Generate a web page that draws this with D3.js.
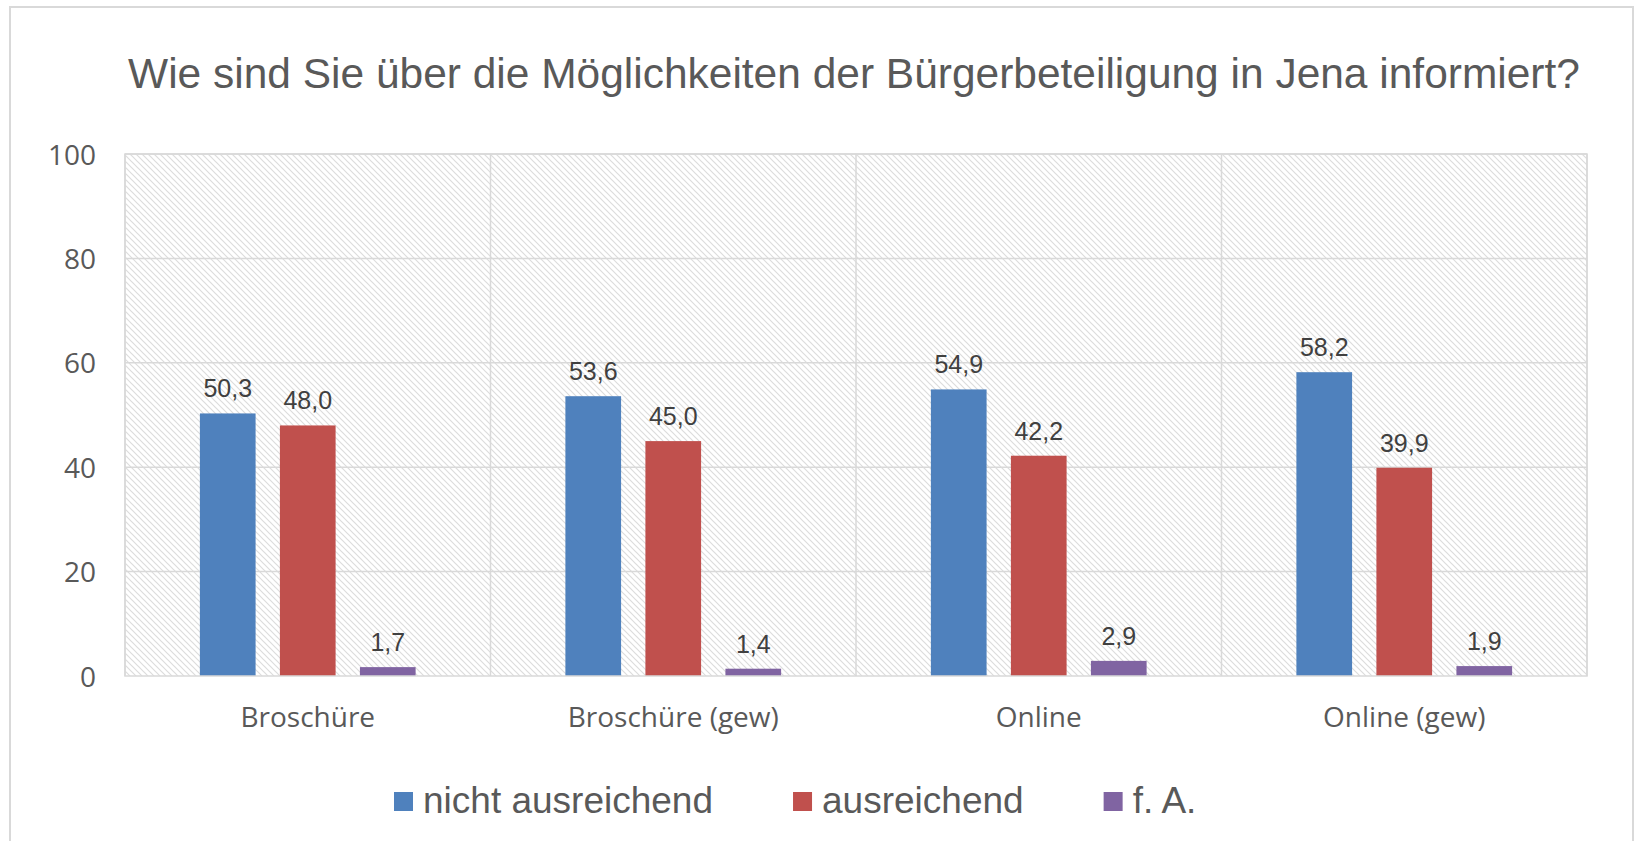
<!DOCTYPE html>
<html><head><meta charset="utf-8">
<script src="https://cdn.jsdelivr.net/npm/d3@7"></script>
<style>html,body{margin:0;padding:0;background:#fff;}</style>
</head><body>
<svg id="c" width="1636" height="841"></svg>
<script>
const titleText = "Wie sind Sie über die Möglichkeiten der Bürgerbeteiligung in Jena informiert?";
const categories = ["Broschüre", "Broschüre (gew)", "Online", "Online (gew)"];
const seriesNames = ["nicht ausreichend", "ausreichend", "f. A."];
const nichtAusreichend = [50.3, 53.6, 54.9, 58.2];
const ausreichend = [48.0, 45.0, 42.2, 39.9];
const fA = [1.7, 1.4, 2.9, 1.9];
const yTicks = [0, 20, 40, 60, 80, 100];
const colors = ["#4f81bd", "#c0504d", "#8064a2"];

const seriesValues = [nichtAusreichend, ausreichend, fA];
const rows = categories.map((c, i) => ({cat: c, vals: seriesNames.map((s, j) => ({s, v: seriesValues[j][i], j}))}));

const svg = d3.select("#c");
const plot = {l: 125, t: 154, r: 1587, b: 676};

// outer chart border
svg.append("rect").attr("x", 10).attr("y", 7).attr("width", 1623).attr("height", 860)
  .attr("fill", "#fff").attr("stroke", "#d9d9d9").attr("stroke-width", 2);

// hatch pattern
const defs = svg.append("defs");
const pat = defs.append("pattern").attr("id", "hatch").attr("patternUnits", "userSpaceOnUse")
  .attr("width", 6).attr("height", 6);
pat.append("path").attr("d", "M-1,5 L1,7 M0,0 L6,6 M5,-1 L7,1")
  .attr("stroke", "#dcdcdc").attr("stroke-width", 1.2).attr("fill", "none");

const x0 = d3.scaleBand().domain(categories).range([plot.l, plot.r]).paddingInner(0).paddingOuter(0);
const x1 = d3.scaleBand().domain(seriesNames).range([0, x0.bandwidth()]).paddingInner(0.304).paddingOuter(0.936);
const y = d3.scaleLinear().domain([0, 100]).range([plot.b, plot.t]);

svg.append("rect").attr("x", plot.l).attr("y", plot.t).attr("width", plot.r - plot.l).attr("height", plot.b - plot.t)
  .attr("fill", "url(#hatch)");

// horizontal gridlines
svg.append("g").selectAll("line").data(yTicks.filter(d => d > 0)).join("line")
  .attr("x1", plot.l).attr("x2", plot.r).attr("y1", d => y(d)).attr("y2", d => y(d))
  .attr("stroke", "#d9d9d9").attr("stroke-width", 1.5);
// vertical gridlines at category boundaries
const bounds = categories.map(c => x0(c)).concat([plot.r]);
svg.append("g").selectAll("line").data(bounds).join("line")
  .attr("x1", d => d).attr("x2", d => d).attr("y1", plot.t).attr("y2", plot.b)
  .attr("stroke", "#d9d9d9").attr("stroke-width", 1.5);

// y axis labels
const yAxis = d3.axisLeft(y).tickValues(yTicks).tickSize(0).tickPadding(0);
const gy = svg.append("g").attr("transform", `translate(96,0)`).call(yAxis);
gy.select(".domain").remove();
gy.selectAll("text").attr("font-family", "'Open Sans', sans-serif").attr("font-size", 28)
  .attr("fill", "#595959").attr("dy", "0.36em");

// x axis labels
const xAxis = d3.axisBottom(x0).tickSize(0).tickPadding(0);
const gx = svg.append("g").attr("transform", `translate(0,727)`).call(xAxis);
gx.select(".domain").remove();
gx.selectAll("text").attr("font-family", "'Open Sans', sans-serif").attr("font-size", 28)
  .attr("fill", "#595959").attr("dy", "0");

// bars
const groups = svg.append("g").selectAll("g").data(rows).join("g")
  .attr("transform", d => `translate(${x0(d.cat)},0)`);
groups.selectAll("rect").data(d => d.vals).join("rect")
  .attr("x", d => x1(d.s)).attr("width", x1.bandwidth())
  .attr("y", d => y(d.v)).attr("height", d => plot.b - y(d.v))
  .attr("fill", d => colors[d.j]);
groups.selectAll("text").data(d => d.vals).join("text")
  .attr("x", d => x1(d.s) + x1.bandwidth() / 2).attr("y", d => y(d.v) - 16)
  .attr("text-anchor", "middle").attr("font-family", "'Liberation Sans', Arial, sans-serif")
  .attr("font-size", 25).attr("fill", "#404040")
  .text(d => d.v.toFixed(1).replace(".", ","));

// plot border
svg.append("rect").attr("x", plot.l).attr("y", plot.t).attr("width", plot.r - plot.l).attr("height", plot.b - plot.t)
  .attr("fill", "none").attr("stroke", "#d9d9d9").attr("stroke-width", 1.5);

// title
const title = svg.append("text").attr("x", 854).attr("y", 88).attr("text-anchor", "middle")
  .attr("font-family", "'Liberation Sans', Arial, sans-serif").attr("font-size", 42).attr("fill", "#595959")
  .text(titleText);
const tw = title.node().getComputedTextLength();
title.attr("font-size", 42 * 1452 / tw);

// legend
const leg = svg.append("g");
let lx = 394;
seriesNames.forEach((s, j) => {
  leg.append("rect").attr("x", lx).attr("y", 792).attr("width", 19).attr("height", 19).attr("fill", colors[j]);
  const t = leg.append("text").attr("x", lx + 29).attr("y", 813)
    .attr("font-family", "'Liberation Sans', Arial, sans-serif").attr("font-size", 37).attr("fill", "#595959")
    .text(s);
  lx += 29 + t.node().getComputedTextLength() + 80;
});
</script>
</body></html>
